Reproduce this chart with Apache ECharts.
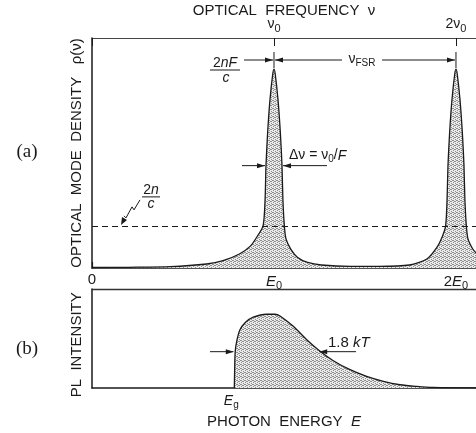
<!DOCTYPE html>
<html>
<head>
<meta charset="utf-8">
<script src="https://cdn.jsdelivr.net/npm/echarts@6/dist/echarts.min.js"></script>
<style>
  html, body { margin: 0; padding: 0; background: #fff; }
  #chart { width: 476px; height: 433px; }
</style>
</head>
<body>
<div id="chart"></div>
<script>
// photon energy in units of E0, mode density in units of 2n/c
const modeEnergy = [0, 0.2, 0.43, 0.63, 0.72, 0.81, 0.87, 0.905, 0.94, 0.951, 0.956, 0.965, 0.978, 0.993, 1.0,
  1.007, 1.022, 1.035, 1.044, 1.049, 1.057, 1.066, 1.092, 1.13, 1.185, 1.26, 1.42, 1.58, 1.745, 1.84, 1.895,
  1.925, 1.943, 1.951, 1.956, 1.965, 1.978, 1.993, 2.0, 2.007, 2.022, 2.035, 2.044, 2.049, 2.057, 2.066, 2.092, 2.11];
const modeDensity = [0.012, 0.017, 0.031, 0.095, 0.174, 0.333, 0.52, 0.73, 1.0, 1.62, 2.43, 3.21, 4.0, 4.6, 4.72,
  4.6, 4.0, 3.21, 2.43, 1.62, 1.0, 0.69, 0.45, 0.25, 0.133, 0.071, 0.038, 0.038, 0.071, 0.214, 0.49,
  0.75, 1.0, 1.62, 2.43, 3.21, 4.0, 4.6, 4.72, 4.6, 4.0, 3.21, 2.43, 1.62, 1.0, 0.69, 0.45, 0.36];
const averageDensity = 1.0;
const fwhmHalf = 0.044;

const plEnergy = [0.782, 0.784, 0.787, 0.797, 0.813, 0.841, 0.886, 0.96, 1.005, 1.033, 1.106, 1.18, 1.243,
  1.326, 1.418, 1.509, 1.601, 1.692, 1.784, 1.874, 2.11];
const plIntensity = [0, 0.2, 0.37, 0.488, 0.589, 0.66, 0.715, 0.745, 0.745, 0.728, 0.623, 0.488, 0.387,
  0.276, 0.185, 0.117, 0.067, 0.033, 0.016, 0.006, 0.002];
const gapEnergy = 0.782;
const kTPoint = 1.243;

const energyTicks = ['0', '{i|E}{s|0}', '2{i|E}{s|0}'];
const freqTicks = ['', 'ν{s|0}', '2ν{s|0}'];

const xMax = 2.11;
const ink = '#1a1a1a';
const sans = 'Liberation Sans, Arial, sans-serif';

// stipple fill like the printed halftone
const pat = document.createElement('canvas');
pat.width = 4; pat.height = 4;
const pc = pat.getContext('2d');
pc.fillStyle = '#ebebeb'; pc.fillRect(0, 0, 4, 4);
pc.fillStyle = '#8e8e8e';
[[0, 0], [2, 1], [1, 2], [3, 3], [3, 1], [1, 0]].forEach(function (d) { pc.fillRect(d[0], d[1], 1, 1); });

const rich = {
  i: { fontStyle: 'italic', fontSize: 15, fontFamily: sans, color: ink },
  s: { fontSize: 11, fontFamily: sans, color: ink, padding: [8, 0, 0, 0] }
};
const nameStyle = { fontSize: 15, fontFamily: sans, color: ink, rich: rich };

function tickFmt(labels) {
  return function (v) {
    const k = Math.round(v);
    return Math.abs(v - k) < 1e-6 && labels[k] !== undefined ? labels[k] : '';
  };
}

const chart = echarts.init(document.getElementById('chart'), null, { renderer: 'canvas' });

const option = {
  animation: false,
  grid: [
    { left: 92, top: 38, width: 384, height: 230, outerBoundsMode: 'none', containLabel: false },
    { left: 92, top: 289, width: 384, height: 99, outerBoundsMode: 'none', containLabel: false }
  ],
  xAxis: [
    {
      gridIndex: 0, type: 'value', min: 0, max: xMax, interval: 1, position: 'bottom',
      axisLine: { lineStyle: { color: ink, width: 1.5 } },
      axisTick: { show: true, inside: true, length: 6, lineStyle: { color: ink, width: 1.2 } },
      splitLine: { show: false },
      axisLabel: { margin: 4, fontSize: 15, fontFamily: sans, color: ink, formatter: tickFmt(energyTicks), rich: rich }
    },
    {
      gridIndex: 0, type: 'value', min: 0, max: xMax, interval: 1, position: 'top',
      axisLine: { lineStyle: { color: '#444', width: 1.2 } },
      axisTick: { show: true, inside: true, length: 8, lineStyle: { color: ink, width: 1 } },
      splitLine: { show: false },
      axisLabel: { margin: 4, fontSize: 14, fontFamily: sans, color: ink, formatter: tickFmt(freqTicks), rich: rich },
      name: 'OPTICAL  FREQUENCY  ν', nameLocation: 'middle', nameGap: 20, nameMoveOverlap: false,
      nameTextStyle: nameStyle
    },
    {
      gridIndex: 1, type: 'value', min: 0, max: xMax, position: 'bottom',
      axisLine: { lineStyle: { color: ink, width: 1.5 } },
      axisTick: { show: false }, axisLabel: { show: false }, splitLine: { show: false },
      name: 'PHOTON  ENERGY  {i|E}', nameLocation: 'middle', nameGap: 26, nameTextStyle: nameStyle
    },
    {
      gridIndex: 1, type: 'value', min: 0, max: xMax, position: 'top',
      axisLine: { lineStyle: { color: '#333', width: 1.4 } },
      axisTick: { show: false }, axisLabel: { show: false }, splitLine: { show: false }
    }
  ],
  yAxis: [
    {
      gridIndex: 0, type: 'value', min: 0, max: 5.46,
      axisLine: { show: true, lineStyle: { color: ink, width: 1.5 } },
      axisTick: { show: false }, axisLabel: { show: false }, splitLine: { show: false },
      name: 'OPTICAL  MODE  DENSITY   ρ(ν)', nameLocation: 'middle', nameGap: 8, nameRotate: 90,
      nameTextStyle: nameStyle
    },
    {
      gridIndex: 1, type: 'value', min: 0, max: 1,
      axisLine: { show: true, lineStyle: { color: ink, width: 1.5 } },
      axisTick: { show: false }, axisLabel: { show: false }, splitLine: { show: false },
      name: 'PL  INTENSITY   ', nameLocation: 'middle', nameGap: 8, nameRotate: 90,
      nameTextStyle: nameStyle
    }
  ],
  series: [
    {
      type: 'line', xAxisIndex: 0, yAxisIndex: 0, symbol: 'none', smooth: 0.25,
      data: modeEnergy.map((e, i) => [e, modeDensity[i]]),
      lineStyle: { color: ink, width: 1.3 },
      areaStyle: { color: { image: pat, repeat: 'repeat' }, opacity: 1 },
      markLine: {
        silent: true, symbol: 'none', label: { show: false },
        lineStyle: { color: ink, type: [6, 4], width: 1.2 },
        data: [{ yAxis: averageDensity }]
      },
      z: 3
    },
    {
      type: 'line', xAxisIndex: 2, yAxisIndex: 1, symbol: 'none', smooth: 0.3,
      data: plEnergy.map((e, i) => [e, plIntensity[i]]),
      lineStyle: { color: ink, width: 1.3 },
      areaStyle: { color: { image: pat, repeat: 'repeat' }, opacity: 1 },
      z: 3
    }
  ]
};

chart.setOption(option);

// annotations anchored to data positions
const A = (x, y) => chart.convertToPixel({ gridIndex: 0 }, [x, y]);
const B = (x, y) => chart.convertToPixel({ gridIndex: 1 }, [x, y]);

function seg(x1, y1, x2, y2, w) {
  return { type: 'line', shape: { x1, y1, x2, y2 }, style: { stroke: ink, lineWidth: w || 1 }, z: 10 };
}
function head(x, y, dir) {
  return { type: 'polygon', shape: { points: [[x, y], [x - dir * 8, y - 2.5], [x - dir * 8, y + 2.5]] },
    style: { fill: ink }, z: 10 };
}
function txt(text, x, y, opts) {
  return { type: 'text', z: 11, style: Object.assign({
    text, x, y, fill: ink, fontSize: 14, fontFamily: sans, align: 'center', verticalAlign: 'middle', rich: rich
  }, opts || {}) };
}
const itRich = { i: { fontStyle: 'italic', fontSize: 14, fontFamily: sans } };
const subRich = { s: { fontSize: 10, fontFamily: sans, padding: [8, 0, 0, 0] }, i: { fontStyle: 'italic', fontSize: 14, fontFamily: sans } };

const p1 = A(1, 0), p2 = A(2, 0);
const yTop = A(0, 5.46)[1];
const yArrow = yTop + 22;
const yHalf = A(0, 2.43)[1];
const yAvg = A(0, averageDensity)[1];
const halfL = A(1 - fwhmHalf, 0)[0], halfR = A(1 + fwhmHalf, 0)[0];
const eg = B(gapEnergy, 0);
const kt = B(kTPoint, 0.387);

const g = [];
// 2nF/c
g.push(txt('2{i|nF}', 225, yArrow + 3, { rich: itRich }));
g.push(seg(210, yArrow + 10, 240, yArrow + 10, 1));
g.push(txt('{i|c}', 226, yArrow + 18, { rich: itRich }));
g.push(seg(244, yArrow, p1[0] - 1, yArrow, 1), head(p1[0] - 1, yArrow, 1));
// nu_FSR
g.push(seg(p1[0], yArrow - 8, p1[0], yArrow + 8, 1), seg(p2[0], yArrow - 8, p2[0], yArrow + 8, 1));
g.push(seg(p1[0] + 1, yArrow, 342, yArrow, 1), head(p1[0] + 1, yArrow, -1));
g.push(seg(382, yArrow, p2[0] - 1, yArrow, 1), head(p2[0] - 1, yArrow, 1));
g.push(txt('ν{s|FSR}', 362, yArrow - 1, { rich: subRich }));
// delta nu
g.push(seg(242, yHalf, halfL - 1, yHalf, 1), head(halfL - 1, yHalf, 1));
g.push(seg(327, yHalf, halfR + 1, yHalf, 1), head(halfR + 1, yHalf, -1));
g.push(txt('Δν = ν{s|0}/{i|F}', 289, yHalf - 10, { align: 'left', rich: subRich }));
// 2n/c with squiggle
g.push(txt('2{i|n}', 151, yAvg - 36, { rich: itRich }));
g.push(seg(142, yAvg - 29, 160, yAvg - 29, 1));
g.push(txt('{i|c}', 151, yAvg - 22, { rich: itRich }));
g.push({ type: 'polyline', shape: { points: [[140, yAvg - 26], [134, yAvg - 16], [132, yAvg - 19], [126, yAvg - 8], [124, yAvg - 10]] },
  style: { stroke: ink, lineWidth: 1, fill: null }, z: 10 });
g.push({ type: 'polygon', shape: { points: [[121, yAvg - 1], [122, yAvg - 9], [127, yAvg - 6]] }, style: { fill: ink }, z: 10 });
// panel letters
g.push(txt('(a)', 27, 152, { fontSize: 19, fontFamily: 'Liberation Serif, Times New Roman, serif' }));
g.push(txt('(b)', 27, 349, { fontSize: 19, fontFamily: 'Liberation Serif, Times New Roman, serif' }));
// PL annotations
g.push(txt('{i|E}{s|g}', eg[0] - 3, eg[1] + 13, { rich: subRich }));
g.push(seg(210, kt[1] + 2, eg[0] - 1, kt[1] + 2, 1), head(eg[0] - 0.5, kt[1] + 2, 1));
g.push(seg(356, kt[1] + 2, kt[0] + 1, kt[1] + 2, 1), head(kt[0] + 1, kt[1] + 2, -1));
g.push(txt('1.8 {i|kT}', 328, kt[1] - 7, { align: 'left', fontSize: 15,
  rich: { i: { fontStyle: 'italic', fontSize: 15, fontFamily: sans } } }));

chart.setOption({ graphic: g });
</script>
</body>
</html>
